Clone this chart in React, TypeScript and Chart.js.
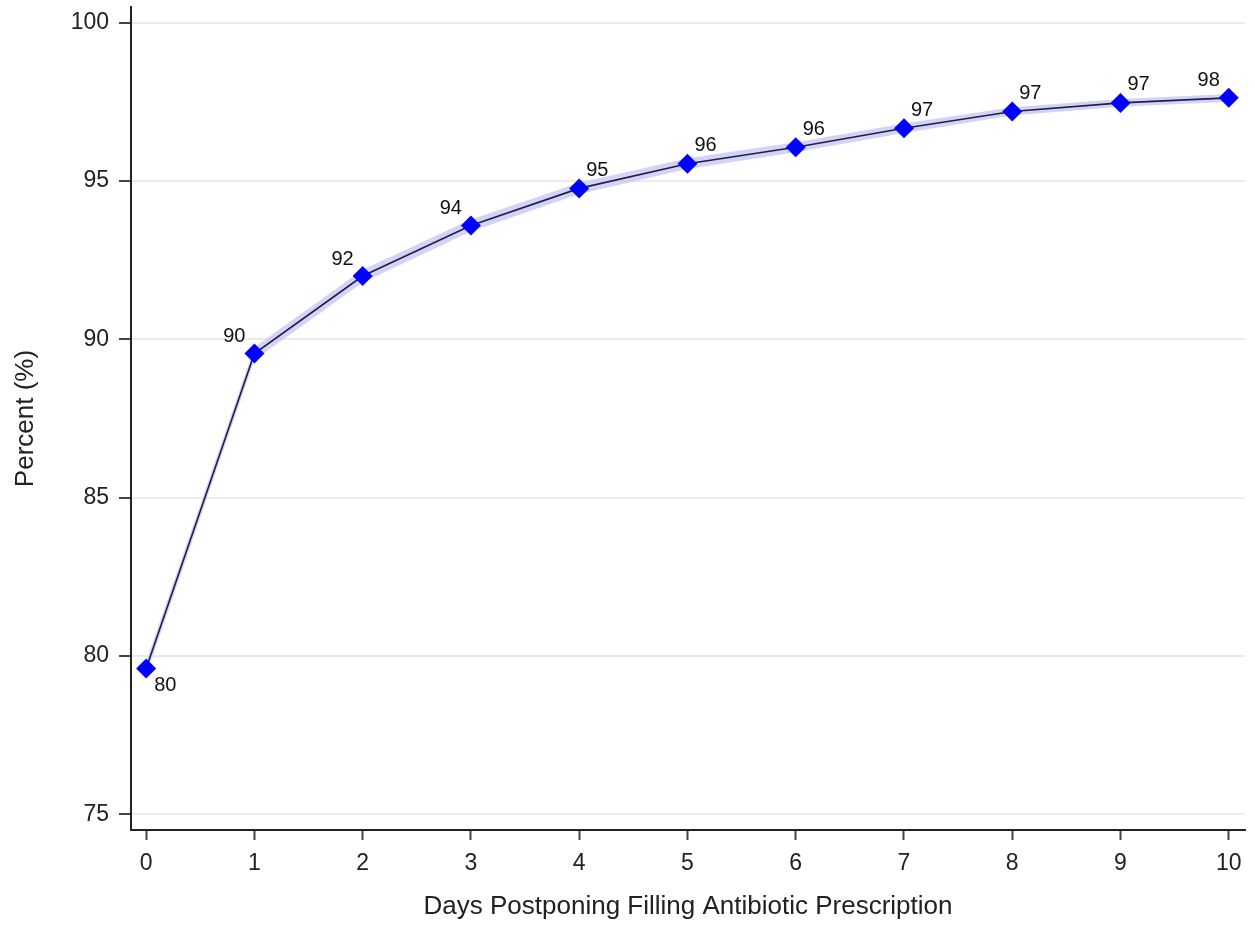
import React, { useEffect, useRef } from "react";
import { Chart, registerables } from "chart.js";

Chart.register(...registerables);

// Data
const days: number[] = [0, 1, 2, 3, 4, 5, 6, 7, 8, 9, 10];
const percentFilled: number[] = [79.6, 89.55, 92.0, 93.6, 94.77, 95.55, 96.07, 96.67, 97.2, 97.47, 97.63];
const ciLower: number[] = [79.38, 89.35, 91.8, 93.41, 94.59, 95.38, 95.91, 96.52, 97.07, 97.35, 97.51];
const ciUpper: number[] = [79.82, 89.75, 92.2, 93.79, 94.95, 95.72, 96.23, 96.82, 97.33, 97.59, 97.75];
const pointLabels: string[] = ["80", "90", "92", "94", "95", "96", "96", "97", "97", "97", "98"];
const xTickValues: number[] = [0, 1, 2, 3, 4, 5, 6, 7, 8, 9, 10];
const yTickValues: number[] = [75, 80, 85, 90, 95, 100];
const xTitle = "Days Postponing Filling Antibiotic Prescription";
const yTitle = "Percent (%)";

// label placement relative to each marker
const labelPlacement: string[] = ["br", "tl", "tl", "tl", "tr", "tr", "tr", "tr", "tr", "tr", "tl"];

const FONT = "'Liberation Sans', Arial, Helvetica, sans-serif";

const pointLabelPlugin = {
  id: "pointLabels",
  afterDatasetsDraw(chart: any) {
    const meta = chart.getDatasetMeta(0);
    const ctx = chart.ctx;
    ctx.save();
    ctx.font = `20px ${FONT}`;
    ctx.fillStyle = "#111111";
    ctx.textBaseline = "middle";
    meta.data.forEach((pt: any, i: number) => {
      const pos = labelPlacement[i];
      const text = pointLabels[i];
      let x = pt.x;
      let y = pt.y;
      if (pos === "br") {
        ctx.textAlign = "left";
        x += 8;
        y += 17;
      } else if (pos === "tl") {
        ctx.textAlign = "right";
        x -= 9;
        y -= 17;
      } else {
        ctx.textAlign = "left";
        x += 7;
        y -= 18;
      }
      ctx.fillText(text, x, y);
    });
    ctx.restore();
  },
};

export default function App() {
  const canvasRef = useRef<HTMLCanvasElement | null>(null);

  useEffect(() => {
    if (!canvasRef.current) return;
    const chart = new Chart(canvasRef.current, {
      type: "line",
      data: {
        datasets: [
          {
            label: "Percent",
            data: days.map((d, i) => ({ x: d, y: percentFilled[i] })),
            borderColor: "#1f1f3d",
            borderWidth: 1.6,
            pointStyle: "rectRot",
            pointRadius: 10,
            pointBackgroundColor: "#0000ff",
            pointBorderWidth: 0,
            pointBorderColor: "#0000ff",
            fill: false,
            tension: 0,
            clip: false,
          },
          {
            label: "lower",
            data: days.map((d, i) => ({ x: d, y: ciLower[i] })),
            borderWidth: 0,
            borderColor: "rgba(0,0,0,0)",
            pointRadius: 0,
            fill: false,
          },
          {
            label: "upper",
            data: days.map((d, i) => ({ x: d, y: ciUpper[i] })),
            borderWidth: 0,
            borderColor: "rgba(0,0,0,0)",
            pointRadius: 0,
            fill: "-1",
            backgroundColor: "rgba(200,200,248,0.8)",
          },
        ],
      },
      options: {
        animation: false,
        responsive: false,
        devicePixelRatio: 1,
        layout: { autoPadding: false, padding: { left: 0, right: 10, top: 7, bottom: 0 } },
        plugins: {
          legend: { display: false },
          tooltip: { enabled: false },
          filler: { drawTime: "beforeDatasetsDraw" },
        },
        scales: {
          x: {
            type: "linear",
            min: -0.14,
            max: 10.15,
            afterBuildTicks: (scale: any) => {
              scale.ticks = xTickValues.map((v) => ({ value: v }));
            },
            afterFit: (scale: any) => {
              scale.height = 99;
              scale.paddingLeft = 0;
              scale.paddingRight = 0;
            },
            ticks: {
              font: { family: FONT, size: 23 },
              color: "#222222",
              padding: 10,
              maxRotation: 0,
              autoSkip: false,
              callback: (v: any) => String(v),
            },
            grid: {
              drawOnChartArea: false,
              drawTicks: true,
              tickLength: 10,
              tickColor: "#444444",
              tickWidth: 2,
            },
            border: { color: "#222222", width: 2 },
            title: {
              display: true,
              text: xTitle,
              font: { family: FONT, size: 26 },
              color: "#222222",
              padding: { top: 0, bottom: 7 },
            },
          },
          y: {
            type: "linear",
            min: 74.5,
            max: 100.5,
            afterBuildTicks: (scale: any) => {
              scale.ticks = yTickValues.map((v) => ({ value: v }));
            },
            afterFit: (scale: any) => {
              scale.width = 131;
              scale.paddingTop = 0;
              scale.paddingBottom = 0;
            },
            ticks: {
              font: { family: FONT, size: 23 },
              color: "#222222",
              padding: 10,
              autoSkip: false,
              callback: (v: any) => String(v),
            },
            grid: {
              drawOnChartArea: true,
              color: "#ebebeb",
              lineWidth: 2,
              drawTicks: true,
              tickLength: 12,
              tickColor: "#444444",
              tickWidth: 2,
            },
            border: { color: "#222222", width: 2 },
            title: {
              display: true,
              text: yTitle,
              font: { family: FONT, size: 26 },
              color: "#222222",
              padding: { top: 10, bottom: 0 },
            },
          },
        },
      } as any,
      plugins: [pointLabelPlugin],
    });
    return () => chart.destroy();
  }, []);

  return (
    <div style={{ position: "fixed", left: 0, top: 0, width: 1255, height: 929, background: "#ffffff" }}>
      <canvas ref={canvasRef} width={1255} height={929} style={{ display: "block", width: 1255, height: 929 }} />
    </div>
  );
}
